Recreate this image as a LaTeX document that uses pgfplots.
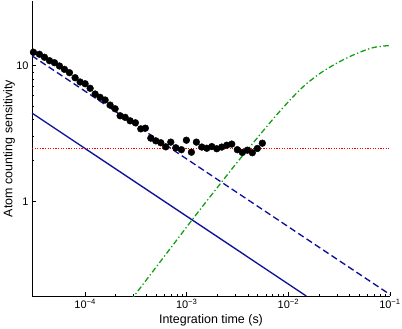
\documentclass[border=0pt]{standalone}
\usepackage{fontspec}
\setmainfont{Liberation Sans}
\usepackage{pgfplots}
\pgfplotsset{compat=1.18}
\definecolor{cblue}{RGB}{15,20,155}
\definecolor{cgreen}{RGB}{20,160,20}
\begin{document}
\begin{tikzpicture}
\begin{axis}[
  xmode=log, ymode=log,
  scale only axis, width=358bp, height=295bp,
  xmin=3e-5, xmax=0.1, ymin=0.2, ymax=30,
  axis x line*=bottom, axis y line*=left,
  xtick pos=bottom, ytick pos=left,
  tick align=inside,
  xtick={1e-4,1e-3,1e-2,1e-1},
  xticklabels={10\textsuperscript{−4},10\textsuperscript{−3},10\textsuperscript{−2},10\textsuperscript{−1}},
  ytick={1,10}, yticklabels={1,10},
  tick label style={font=\fontsize{11}{13}\selectfont},
  label style={font=\fontsize{12.5}{15}\selectfont},
  xlabel={Integration time (s)},
  ylabel={Atom counting sensitivity},
  xlabel style={at={(axis description cs:0.5,0)}, anchor=base, yshift=-27bp},
  ylabel style={at={(axis description cs:0,0.5)}, anchor=base, yshift=19.5bp},
  major tick length=4bp, minor tick length=2.5bp,
  axis line style={line width=0.8bp},
  every tick/.style={line width=0.6bp, black},
]
\coordinate (ll) at (rel axis cs:0,0);
\coordinate (ur) at (rel axis cs:1,1);
% blue dashed
\addplot[color=cblue, line width=1.35bp, dash pattern=on 6.5bp off 3.5bp] coordinates {(3e-5,11.83) (0.1,0.205)};
% blue solid
\addplot[color=cblue, line width=1.35bp] coordinates {(3e-5,4.47) (0.015,0.2)};
% green dash-dot
\addplot[color=cgreen, line width=1.3bp, dash pattern=on 5.5bp off 2.5bp on 1.3bp off 2.5bp, smooth] coordinates {
(2.8e-4,0.186) (3.03e-4,0.2) (5e-4,0.327) (7e-4,0.455) (1.121e-3,0.724) (1.6e-3,1.02)
(2.211e-3,1.39) (3.0e-3,1.86) (3.748e-3,2.28) (5.07e-3,3.0) (7.39e-3,4.2)
(1.038e-2,5.58) (1.459e-2,7.2) (2.129e-2,8.95) (3.222e-2,10.75) (4.703e-2,12.3)
(6.85e-2,13.6) (1e-1,14.1)};
% red dotted reference level
\addplot[draw=red, line width=1.3bp, dash pattern=on 1.3bp off 1.3bp] coordinates {(3e-5,2.44) (0.1,2.44)};
% data
\addplot[only marks, mark=*, mark size=3.4bp, black] coordinates {
(3.10e-5,12.56) (3.55e-5,12.14) (3.98e-5,11.54) (4.46e-5,10.89) (4.99e-5,10.52)
(5.59e-5,9.95) (6.26e-5,9.40) (7.01e-5,8.88) (7.97e-5,8.15) (8.93e-5,7.58)
(1.0e-4,7.36) (1.12e-4,6.81) (1.254e-4,6.18) (1.404e-4,5.84) (1.573e-4,5.58)
(1.762e-4,5.12) (1.973e-4,4.81) (2.210e-4,4.27) (2.475e-4,4.16) (2.771e-4,3.92)
(3.124e-4,3.79) (3.531e-4,3.42) (3.918e-4,3.46) (4.429e-4,2.92) (4.960e-4,2.79)
(5.554e-4,2.70) (6.219e-4,2.52) (6.965e-4,2.73) (7.80e-4,2.48) (8.86e-4,2.40)
(9.92e-4,2.82) (1.111e-3,2.30) (1.244e-3,2.73) (1.406e-3,2.51) (1.574e-3,2.46)
(1.763e-3,2.53) (1.974e-3,2.44) (2.211e-3,2.51) (2.476e-3,2.59) (2.773e-3,2.64)
(3.148e-3,2.40) (3.525e-3,2.29) (3.948e-3,2.38) (4.421e-3,2.28) (4.951e-3,2.45)
(5.545e-3,2.68)};
\end{axis}
\pgfresetboundingbox
\useasboundingbox ([xshift=-32bp,yshift=-32bp]ll) rectangle ([xshift=12bp,yshift=1bp]ur);
\end{tikzpicture}
\end{document}
